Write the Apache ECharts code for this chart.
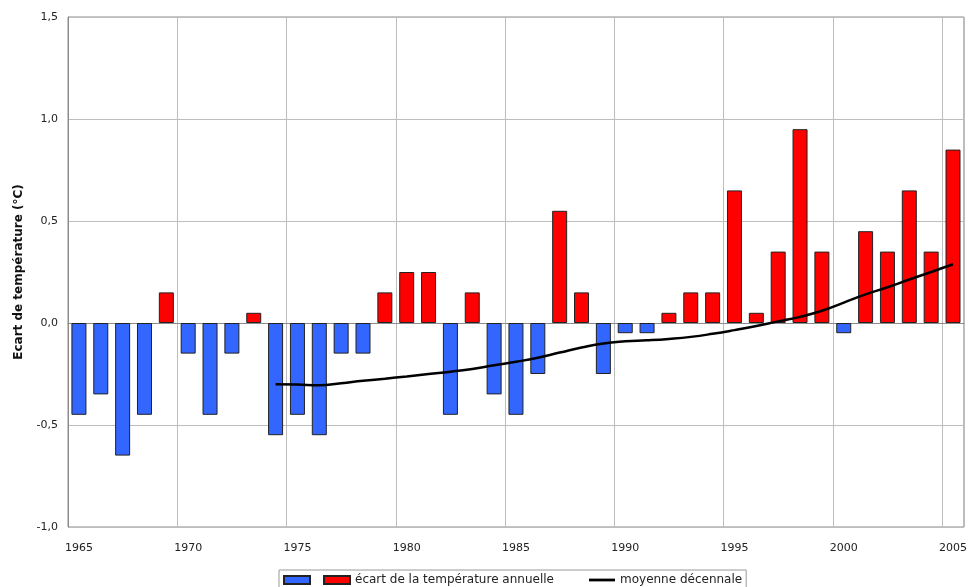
<!DOCTYPE html>
<html>
<head>
<meta charset="utf-8">
<title>Ecart de température</title>
<script src="https://cdn.jsdelivr.net/npm/echarts@6/dist/echarts.min.js"></script>
<style>
  html, body { margin: 0; padding: 0; background: #fff; }
  #chart { width: 970px; height: 587px; }
</style>
</head>
<body>
<div id="chart"></div>
<script>
// années 1965 - 2005
const years = ['1965', '1966', '1967', '1968', '1969', '1970', '1971', '1972', '1973', '1974',
  '1975', '1976', '1977', '1978', '1979', '1980', '1981', '1982', '1983', '1984',
  '1985', '1986', '1987', '1988', '1989', '1990', '1991', '1992', '1993', '1994',
  '1995', '1996', '1997', '1998', '1999', '2000', '2001', '2002', '2003', '2004', '2005']

// écart de la température annuelle (°C)
const anomalies = [-0.45, -0.35, -0.65, -0.45, 0.15, -0.15, -0.45, -0.15, 0.05, -0.55,
  -0.45, -0.55, -0.15, -0.15, 0.15, 0.25, 0.25, -0.45, 0.15, -0.35,
  -0.45, -0.25, 0.55, 0.15, -0.25, -0.05, -0.05, 0.05, 0.15, 0.15,
  0.65, 0.05, 0.35, 0.95, 0.35, -0.05, 0.45, 0.35, 0.65, 0.35, 0.85]

// moyenne décennale (pas de valeur avant 1974)
const decadalMean = [null, null, null, null, null, null, null, null, null, -0.30,
  -0.302, -0.305, -0.295, -0.283, -0.273, -0.262, -0.25, -0.239, -0.225, -0.207,
  -0.19, -0.17, -0.145, -0.12, -0.10, -0.09, -0.085, -0.078, -0.068, -0.053,
  -0.035, -0.015, 0.008, 0.03, 0.06, 0.10, 0.14, 0.175, 0.213, 0.25, 0.288]

const yTicks = { min: -1, max: 1.5, step: 0.5 }

const NEG = 'neg'
const POS = 'écart de la température annuelle'
const MEAN = 'moyenne décennale'

const negData = anomalies.map(v => (v < 0 ? v : '-'))
const posData = anomalies.map(v => (v >= 0 ? v : '-'))

const chart = echarts.init(document.getElementById('chart'))

chart.setOption({
  animation: false,
  textStyle: { fontFamily: 'DejaVu Sans' },
  grid: {
    left: 68,
    right: 6,
    top: 17,
    bottom: 60,
    show: true,
    borderColor: '#8c8c8c',
    borderWidth: 1
  },
  legend: {
    left: 279,
    top: 570,
    padding: [3, 4, 3, 4],
    borderColor: '#999',
    borderWidth: 1,
    itemGap: 8,
    itemWidth: 26,
    itemHeight: 8,
    selectedMode: false,
    symbolKeepAspect: true,
    data: [
      { name: NEG, icon: 'rect' },
      { name: POS, icon: 'rect' },
      { name: MEAN, icon: 'path://M0,0 L28,0 L28,3 L0,3 Z' }
    ],
    formatter(name) {
      if (name === NEG) return ''
      if (name === POS) return '{a|' + name + '}'
      return name
    },
    textStyle: {
      fontSize: 12,
      color: '#222',
      lineHeight: 14,
      rich: {
        a: { width: 226, fontSize: 12, color: '#222' }
      }
    }
  },
  xAxis: {
    type: 'category',
    data: years,
    boundaryGap: true,
    axisLine: { lineStyle: { color: '#8c8c8c', width: 1 } },
    axisTick: { show: false },
    axisLabel: { interval: 4, color: '#222', fontSize: 11, margin: 16 },
    splitLine: { show: true, interval: 4, lineStyle: { color: '#bdbdbd', width: 1 } }
  },
  yAxis: {
    type: 'value',
    min: yTicks.min,
    max: yTicks.max,
    interval: yTicks.step,
    name: 'Ecart de température (°C)',
    nameLocation: 'middle',
    nameRotate: 90,
    nameGap: 43,
    nameTextStyle: { fontSize: 12, fontWeight: 'bold', color: '#111' },
    axisLine: { show: true, lineStyle: { color: '#8c8c8c', width: 1 } },
    axisTick: { show: false },
    axisLabel: {
      color: '#222',
      fontSize: 11,
      margin: 10,
      formatter: v => v.toFixed(1).replace('.', ',')
    },
    splitLine: { lineStyle: { color: '#bdbdbd', width: 1 } }
  },
  series: [
    {
      name: NEG,
      type: 'bar',
      data: negData,
      barWidth: 15,
      barGap: '-100%',
      itemStyle: { color: '#3366ff', borderColor: '#222', borderWidth: 1 }
    },
    {
      name: POS,
      type: 'bar',
      data: posData,
      barWidth: 15,
      barGap: '-100%',
      itemStyle: { color: '#ff0000', borderColor: '#222', borderWidth: 1 }
    },
    {
      name: MEAN,
      type: 'line',
      data: decadalMean,
      smooth: true,
      symbol: 'none',
      lineStyle: { color: '#000', width: 2.5 },
      itemStyle: { color: '#000' },
      z: 5
    }
  ]
})
</script>
</body>
</html>
